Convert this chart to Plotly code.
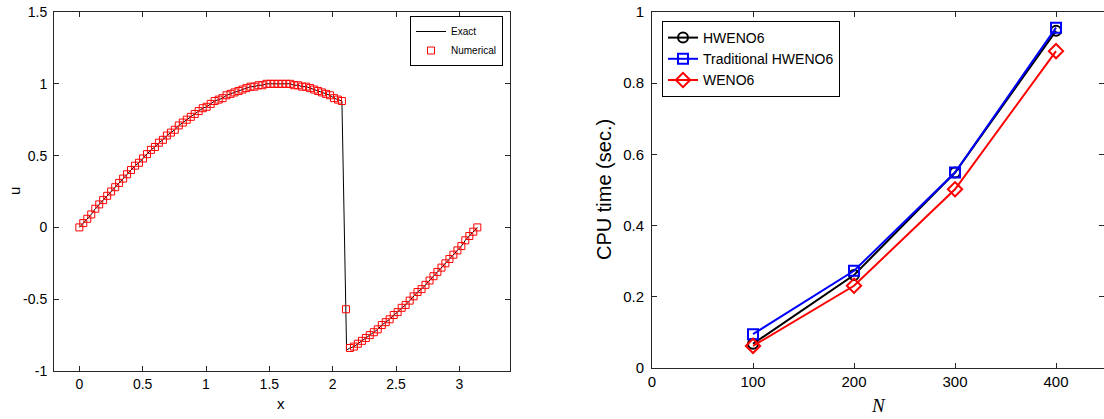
import plotly.graph_objects as go

# ---------------- Left panel data (Burgers steady state, N=100) ----------------
x_num = [0.000, 0.031, 0.063, 0.094, 0.126, 0.157, 0.188, 0.220, 0.251, 0.283,
         0.314, 0.346, 0.377, 0.408, 0.440, 0.471, 0.503, 0.534, 0.565, 0.597,
         0.628, 0.660, 0.691, 0.723, 0.754, 0.785, 0.817, 0.848, 0.880, 0.911,
         0.942, 0.974, 1.005, 1.037, 1.068, 1.100, 1.131, 1.162, 1.194, 1.225,
         1.257, 1.288, 1.319, 1.351, 1.382, 1.414, 1.445, 1.477, 1.508, 1.539,
         1.571, 1.602, 1.634, 1.665, 1.696, 1.728, 1.759, 1.791, 1.822, 1.854,
         1.885, 1.916, 1.948, 1.979, 2.011, 2.042, 2.073, 2.105, 2.136, 2.168,
         2.199, 2.231, 2.262, 2.293, 2.325, 2.356, 2.388, 2.419, 2.450, 2.482,
         2.513, 2.545, 2.576, 2.608, 2.639, 2.670, 2.702, 2.733, 2.765, 2.796,
         2.827, 2.859, 2.890, 2.922, 2.953, 2.985, 3.016, 3.047, 3.079, 3.110,
         3.142]
u_num = [0.00, 0.03, 0.06, 0.09, 0.13, 0.16, 0.19, 0.22, 0.25, 0.28,
         0.31, 0.34, 0.37, 0.40, 0.43, 0.45, 0.48, 0.51, 0.54, 0.56,
         0.59, 0.61, 0.64, 0.66, 0.68, 0.71, 0.73, 0.75, 0.77, 0.79,
         0.81, 0.83, 0.84, 0.86, 0.88, 0.89, 0.90, 0.92, 0.93, 0.94,
         0.95, 0.96, 0.97, 0.98, 0.98, 0.99, 0.99, 1.00, 1.00, 1.00,
         1.00, 1.00, 1.00, 1.00, 0.99, 0.99, 0.98, 0.98, 0.97, 0.96,
         0.95, 0.94, 0.93, 0.92, 0.90, 0.89, 0.88, -0.57, -0.84, -0.83,
         -0.81, -0.79, -0.77, -0.75, -0.73, -0.71, -0.68, -0.66, -0.64, -0.61,
         -0.59, -0.56, -0.54, -0.51, -0.48, -0.45, -0.43, -0.40, -0.37, -0.34,
         -0.31, -0.28, -0.25, -0.22, -0.19, -0.16, -0.13, -0.09, -0.06, -0.03,
         0.00]
# exact solution: same samples, with the shock foot replacing the smeared cell
shock_index = 67
shock_x = 2.11
shock_u = -0.855
x_exact = x_num[:shock_index] + [shock_x] + x_num[shock_index + 1:]
u_exact = u_num[:shock_index] + [shock_u] + u_num[shock_index + 1:]

left_xticks = [0, 0.5, 1, 1.5, 2, 2.5, 3]
left_xtext = ["0", "0.5", "1", "1.5", "2", "2.5", "3"]
left_yticks = [-1, -0.5, 0, 0.5, 1, 1.5]
left_ytext = ["-1", "-0.5", "0", "0.5", "1", "1.5"]

# ---------------- Right panel data (CPU time) ----------------
N_vals = [100, 200, 300, 400]
cpu_hweno6 = [0.068, 0.261, 0.549, 0.947]
cpu_trad_hweno6 = [0.095, 0.273, 0.549, 0.956]
cpu_weno6 = [0.062, 0.231, 0.502, 0.890]

right_xticks = [0, 100, 200, 300, 400]
right_yticks = [0, 0.2, 0.4, 0.6, 0.8, 1]
right_ytext = ["0", "0.2", "0.4", "0.6", "0.8", "1"]

W, H = 1104, 419
SANS = "Liberation Sans, Arial, Helvetica, sans-serif"

fig = go.Figure()

fig.add_trace(go.Scatter(x=x_exact, y=u_exact, mode="lines", name="Exact",
                         line=dict(color="black", width=1),
                         xaxis="x", yaxis="y", legend="legend"))
fig.add_trace(go.Scatter(x=x_num, y=u_num, mode="markers", name="Numerical",
                         marker=dict(symbol="square-open", size=7, color="red",
                                     line=dict(color="red", width=1)),
                         xaxis="x", yaxis="y", legend="legend"))

for name, vals, color, sym, sz in [
        ("HWENO6", cpu_hweno6, "black", "circle-open", 10),
        ("Traditional HWENO6", cpu_trad_hweno6, "blue", "square-open", 10),
        ("WENO6", cpu_weno6, "red", "diamond-open", 11)]:
    fig.add_trace(go.Scatter(x=N_vals, y=vals, mode="lines+markers", name=name,
                             line=dict(color=color, width=2),
                             marker=dict(symbol=sym, size=sz, color=color,
                                         line=dict(color=color, width=2)),
                             xaxis="x2", yaxis="y2", legend="legend2"))

axis_common = dict(showline=True, linecolor="#262626", linewidth=1, mirror="ticks",
                   ticks="inside", ticklen=5, tickcolor="#262626", tickwidth=1,
                   showgrid=False, zeroline=False, automargin=False)

fig.update_layout(
    template="none",
    width=W, height=H,
    margin=dict(l=0, r=0, t=0, b=0, pad=0),
    paper_bgcolor="white", plot_bgcolor="white",
    font=dict(family=SANS, color="black"),
    xaxis=dict(domain=[54 / W, 510 / W], range=[-0.2, 3.4],
               tickvals=left_xticks, ticktext=left_xtext,
               tickfont=dict(size=14), anchor="y", **axis_common),
    yaxis=dict(domain=[1 - 371 / H, 1 - 12 / H], range=[-1, 1.5],
               tickvals=left_yticks, ticktext=left_ytext, ticklabelstandoff=3,
               tickfont=dict(size=14), anchor="x", **axis_common),
    xaxis2=dict(domain=[652 / W, 1.0], range=[0, 447.5],
                tickvals=right_xticks, tickfont=dict(size=15), anchor="y2",
                **axis_common),
    yaxis2=dict(domain=[1 - 368 / H, 1 - 12 / H], range=[0, 1],
                tickvals=right_yticks, ticktext=right_ytext, ticklabelstandoff=4,
                tickfont=dict(size=15), anchor="x2", **axis_common),
    legend=dict(x=410 / W, y=1 - 16 / H, xanchor="left", yanchor="top",
                bordercolor="black", borderwidth=1, bgcolor="white",
                font=dict(size=10, family=SANS), itemwidth=30,
                tracegroupgap=0),
    legend2=dict(x=662 / W, y=1 - 21 / H, xanchor="left", yanchor="top",
                 bordercolor="black", borderwidth=1, bgcolor="white",
                 font=dict(size=14, family=SANS), itemwidth=30,
                 tracegroupgap=0),
    showlegend=True,
    annotations=[
        dict(text="x", x=281 / W, y=1 - 403 / H, xref="paper", yref="paper",
             showarrow=False, font=dict(size=15, family=SANS),
             xanchor="center", yanchor="middle"),
        dict(text="u", x=14 / W, y=1 - 191 / H, xref="paper", yref="paper",
             showarrow=False, textangle=-90, font=dict(size=15, family=SANS),
             xanchor="center", yanchor="middle"),
        dict(text="CPU time (sec.)", x=604 / W, y=1 - 190 / H, xref="paper",
             yref="paper", showarrow=False, textangle=-90,
             font=dict(size=20, family=SANS), xanchor="center", yanchor="middle"),
        dict(text="<i>N</i>", x=878 / W, y=1 - 405 / H, xref="paper", yref="paper",
             showarrow=False, font=dict(size=19, family="Liberation Serif, Times New Roman, serif"),
             xanchor="center", yanchor="middle"),
    ],
)

fig.write_html("out.html")
